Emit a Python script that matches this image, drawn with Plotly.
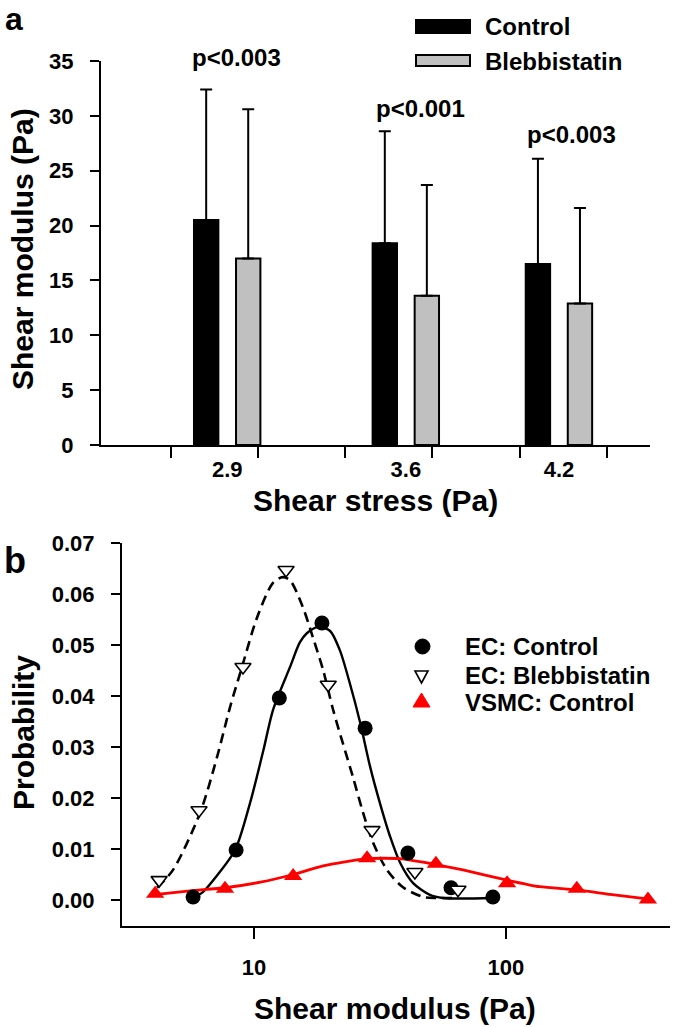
import plotly.graph_objects as go

# ---------------- panel a data ----------------
stress = [2.9, 3.6, 4.2]
stress_labels = ["2.9", "3.6", "4.2"]
control_mean = [20.5, 18.4, 16.5]
control_sd = [11.9, 10.2, 9.6]
blebb_mean = [17.0, 13.6, 12.9]
blebb_sd = [13.6, 10.1, 8.7]
p_labels = ["p<0.003", "p<0.001", "p<0.003"]
p_label_x = [2.938, 3.659, 4.251]
p_label_y = [35.3, 30.7, 28.3]
minor_tick_vals = [2.680, 3.021, 3.362, 3.703, 4.047, 4.388]

# ---------------- panel b data ----------------
ec_ctrl_x = [5.73, 8.49, 12.6, 18.6, 27.6, 40.8, 60.5, 88.7]
ec_ctrl_y = [0.0006, 0.0098, 0.0396, 0.0543, 0.0337, 0.0092, 0.0024, 0.0006]
ec_bleb_x = [4.20, 6.05, 9.04, 13.4, 19.7, 29.4, 43.5, 64.5]
ec_bleb_y = [0.0039, 0.0176, 0.0457, 0.0647, 0.0422, 0.0137, 0.0055, 0.0020]
vsmc_x = [4.05, 7.67, 14.3, 28.1, 52.7, 101, 191, 366]
vsmc_y = [0.0012, 0.0022, 0.0047, 0.0082, 0.0071, 0.0033, 0.0022, 0.0001]

# fitted curves
fit_ctrl_x = [5.73, 6.28, 7.0, 8.41, 9.64, 10.9, 11.9, 13.9, 15.2, 16.2, 17.9, 20.0,
              21.9, 24.0, 26.4, 28.9, 31.6, 34.7, 38.0, 42.8, 49.9, 56.2, 88.7]
fit_ctrl_y = [0.0004, 0.0016, 0.0043, 0.0098, 0.0190, 0.0294, 0.0373, 0.0457, 0.0505,
              0.0523, 0.0535, 0.0528, 0.0490, 0.0425, 0.0347, 0.0261, 0.0190, 0.0124,
              0.0073, 0.0033, 0.0010, 0.0004, 0.0004]
fit_bleb_x = [4.12, 4.77, 6.11, 7.13, 8.03, 8.96, 10.3, 11.9, 13.0, 13.9, 15.6, 17.1,
              18.8, 20.6, 22.5, 24.7, 27.1, 29.7, 33.7, 39.0, 46.9, 53.3, 64.5]
fit_bleb_y = [0.0024, 0.0059, 0.0171, 0.0280, 0.0378, 0.0457, 0.0555, 0.0622, 0.0633,
              0.0627, 0.0575, 0.0516, 0.0451, 0.0373, 0.0308, 0.0241, 0.0171, 0.0112,
              0.0059, 0.0025, 0.0006, 0.0004, 0.0004]
fit_vsmc_x = [3.94, 5.57, 7.67, 10.6, 14.3, 18.8, 28.1, 38.0, 53.2, 67.5, 101, 136,
              191, 259, 363]
fit_vsmc_y = [0.0010, 0.0018, 0.0024, 0.0035, 0.0050, 0.0067, 0.0081, 0.0081, 0.0069,
              0.0059, 0.0039, 0.0026, 0.0020, 0.0011, 0.0002]

legend_b_labels = ["EC: Control", "EC: Blebbistatin", "VSMC: Control"]

FONT = "Liberation Sans, Arial, sans-serif"
W, H = 675, 1027
RED = "#ff0000"


def px(xp):
    return xp / W


def py(yp):
    return 1 - yp / H


YA_DOM = [py(445), py(61)]
YA_RANGE = [0, 35]


def ya_paper(v):
    return YA_DOM[0] + (v - YA_RANGE[0]) / (YA_RANGE[1] - YA_RANGE[0]) * (YA_DOM[1] - YA_DOM[0])


fig = go.Figure()

# ---- panel a bars ----
fig.add_trace(go.Bar(
    x=stress, y=control_mean, name="Control", showlegend=False,
    marker=dict(color="black", line=dict(color="black", width=2)),
    error_y=dict(type="data", array=control_sd, symmetric=False,
                 arrayminus=[0] * len(control_sd), color="black",
                 thickness=2, width=6),
    xaxis="x", yaxis="y"))
fig.add_trace(go.Bar(
    x=stress, y=blebb_mean, name="Blebbistatin", showlegend=False,
    marker=dict(color="#c0c0c0", line=dict(color="black", width=2)),
    error_y=dict(type="data", array=blebb_sd, symmetric=False,
                 arrayminus=[0] * len(blebb_sd), color="black",
                 thickness=2, width=6),
    xaxis="x", yaxis="y"))

# ---- panel b curves ----
fig.add_trace(go.Scatter(x=fit_ctrl_x, y=fit_ctrl_y, mode="lines", showlegend=False,
                         line=dict(color="black", width=2.4, shape="spline", smoothing=0.8),
                         xaxis="x2", yaxis="y2"))
fig.add_trace(go.Scatter(x=fit_bleb_x, y=fit_bleb_y, mode="lines", showlegend=False,
                         line=dict(color="black", width=2.6, dash="10px,6px",
                                   shape="spline", smoothing=0.8),
                         xaxis="x2", yaxis="y2"))
fig.add_trace(go.Scatter(x=fit_vsmc_x, y=fit_vsmc_y, mode="lines", showlegend=False,
                         line=dict(color=RED, width=2.8, shape="spline", smoothing=0.6),
                         xaxis="x2", yaxis="y2"))

# ---- panel b markers ----
fig.add_trace(go.Scatter(x=ec_ctrl_x, y=ec_ctrl_y, mode="markers", name=legend_b_labels[0],
                         showlegend=False,
                         marker=dict(symbol="circle", size=15, color="black"),
                         xaxis="x2", yaxis="y2"))
fig.add_trace(go.Scatter(x=ec_bleb_x, y=ec_bleb_y, mode="markers", name=legend_b_labels[1],
                         showlegend=False,
                         marker=dict(symbol="triangle-down", size=14, color="white",
                                     line=dict(color="black", width=1.6)),
                         xaxis="x2", yaxis="y2"))
fig.add_trace(go.Scatter(x=vsmc_x, y=vsmc_y, mode="markers", name=legend_b_labels[2],
                         showlegend=False,
                         marker=dict(symbol="triangle-up", size=16, color=RED),
                         xaxis="x2", yaxis="y2"))

tickfont = dict(family=FONT, size=22, color="black", weight="bold")

fig.update_layout(
    width=W, height=H,
    margin=dict(l=0, r=0, t=0, b=0, autoexpand=False),
    paper_bgcolor="white", plot_bgcolor="white",
    barmode="group", bargap=0.451, bargroupgap=0.42,
    font=dict(family=FONT, color="black"),
    showlegend=False,
    xaxis=dict(domain=[px(101), px(650)], range=[2.4055, 4.5568],
               tickmode="array", tickvals=stress, ticktext=stress_labels,
               ticks="", showline=True, linecolor="black", linewidth=2,
               showgrid=False, zeroline=False, tickfont=tickfont,
               ticklabelstandoff=4, automargin=False,
               minor=dict(tickmode="array", tickvals=minor_tick_vals,
                          ticks="outside", ticklen=11, tickwidth=2,
                          tickcolor="black", showgrid=False),
               anchor="y"),
    yaxis=dict(domain=YA_DOM, range=YA_RANGE,
               tickmode="array", tickvals=[0, 5, 10, 15, 20, 25, 30, 35],
               ticks="outside", ticklen=9, tickwidth=2, tickcolor="black",
               showline=True, linecolor="black", linewidth=2,
               showgrid=False, zeroline=False, tickfont=tickfont,
               ticklabelstandoff=12, automargin=False, anchor="x"),
    xaxis2=dict(domain=[px(122), px(670)], type="log", range=[0.476, 2.651],
                tickmode="array", tickvals=[10, 100], ticktext=["10", "100"],
                ticks="outside", ticklen=11, tickwidth=2, tickcolor="black",
                showline=True, linecolor="black", linewidth=2,
                showgrid=False, zeroline=False, tickfont=tickfont,
                ticklabelstandoff=10, automargin=False, anchor="y2"),
    yaxis2=dict(domain=[py(926), py(543)], range=[-0.0051, 0.07],
                tickmode="array",
                tickvals=[0, 0.01, 0.02, 0.03, 0.04, 0.05, 0.06, 0.07],
                tickformat=".2f",
                ticks="outside", ticklen=9, tickwidth=2, tickcolor="black",
                showline=True, linecolor="black", linewidth=2,
                showgrid=False, zeroline=False, tickfont=tickfont,
                ticklabelstandoff=12, automargin=False, anchor="x2"),
)

titlefont = dict(family=FONT, size=30, color="black", weight="bold")
legfont = dict(family=FONT, size=24, color="black", weight="bold")
ann = []
# axis titles
ann.append(dict(text="Shear stress (Pa)", x=px(375), y=py(500), xref="paper", yref="paper",
                showarrow=False, font=titlefont, xanchor="center", yanchor="middle"))
ann.append(dict(text="Shear modulus (Pa)", x=px(22), y=py(249), xref="paper", yref="paper",
                showarrow=False, font=titlefont, textangle=-90,
                xanchor="center", yanchor="middle"))
ann.append(dict(text="Shear modulus (Pa)", x=px(395), y=py(1008), xref="paper", yref="paper",
                showarrow=False, font=titlefont, xanchor="center", yanchor="middle"))
ann.append(dict(text="Probability", x=px(23), y=py(733), xref="paper", yref="paper",
                showarrow=False, font=titlefont, textangle=-90,
                xanchor="center", yanchor="middle"))
# panel labels
ann.append(dict(text="a", x=px(14), y=1, xref="paper", yref="paper", showarrow=False,
                font=dict(family=FONT, size=32, color="black", weight="bold"),
                xanchor="center", yanchor="top", borderpad=0))
ann.append(dict(text="b", x=px(15), y=py(560), xref="paper", yref="paper", showarrow=False,
                font=dict(family=FONT, size=36, color="black", weight="bold"),
                xanchor="center", yanchor="middle"))
# p-values
for lab, xv, yv in zip(p_labels, p_label_x, p_label_y):
    ann.append(dict(text=lab, x=xv, y=ya_paper(yv), xref="x", yref="paper", showarrow=False,
                    font=dict(family=FONT, size=24, color="black", weight="bold"),
                    xanchor="center", yanchor="middle"))
# manual legend for panel a
ann.append(dict(text="Control", x=px(483), y=py(26), xref="paper", yref="paper",
                showarrow=False, font=legfont, xanchor="left", yanchor="middle"))
ann.append(dict(text="Blebbistatin", x=px(483), y=py(61), xref="paper", yref="paper",
                showarrow=False, font=legfont, xanchor="left", yanchor="middle"))
# manual legend for panel b
for lab, yy in zip(legend_b_labels, [646, 675, 702]):
    ann.append(dict(text=lab, x=px(463), y=py(yy), xref="paper", yref="paper",
                    showarrow=False, font=legfont, xanchor="left", yanchor="middle"))
fig.update_layout(annotations=ann)

shapes = []
shapes.append(dict(type="rect", xref="paper", yref="paper",
                   x0=px(416), x1=px(470), y0=py(33), y1=py(20),
                   fillcolor="black", line=dict(color="black", width=2)))
shapes.append(dict(type="rect", xref="paper", yref="paper",
                   x0=px(416), x1=px(470), y0=py(66), y1=py(55),
                   fillcolor="#c0c0c0", line=dict(color="black", width=2)))
# legend glyphs panel b
shapes.append(dict(type="circle", xref="paper", yref="paper",
                   x0=px(415), x1=px(430), y0=py(654), y1=py(639),
                   fillcolor="black", line=dict(color="black", width=1)))
shapes.append(dict(type="path", xref="paper", yref="paper",
                   path=f"M {px(415)},{py(671)} L {px(428)},{py(671)} L {px(421.5)},{py(683)} Z",
                   fillcolor="white", line=dict(color="black", width=1.6)))
shapes.append(dict(type="path", xref="paper", yref="paper",
                   path=f"M {px(413)},{py(707)} L {px(430)},{py(707)} L {px(421.5)},{py(693)} Z",
                   fillcolor=RED, line=dict(color=RED, width=1)))
fig.update_layout(shapes=shapes)

fig.write_html("out.html", config={"displayModeBar": False},
               post_script="document.body.style.margin='0';")
